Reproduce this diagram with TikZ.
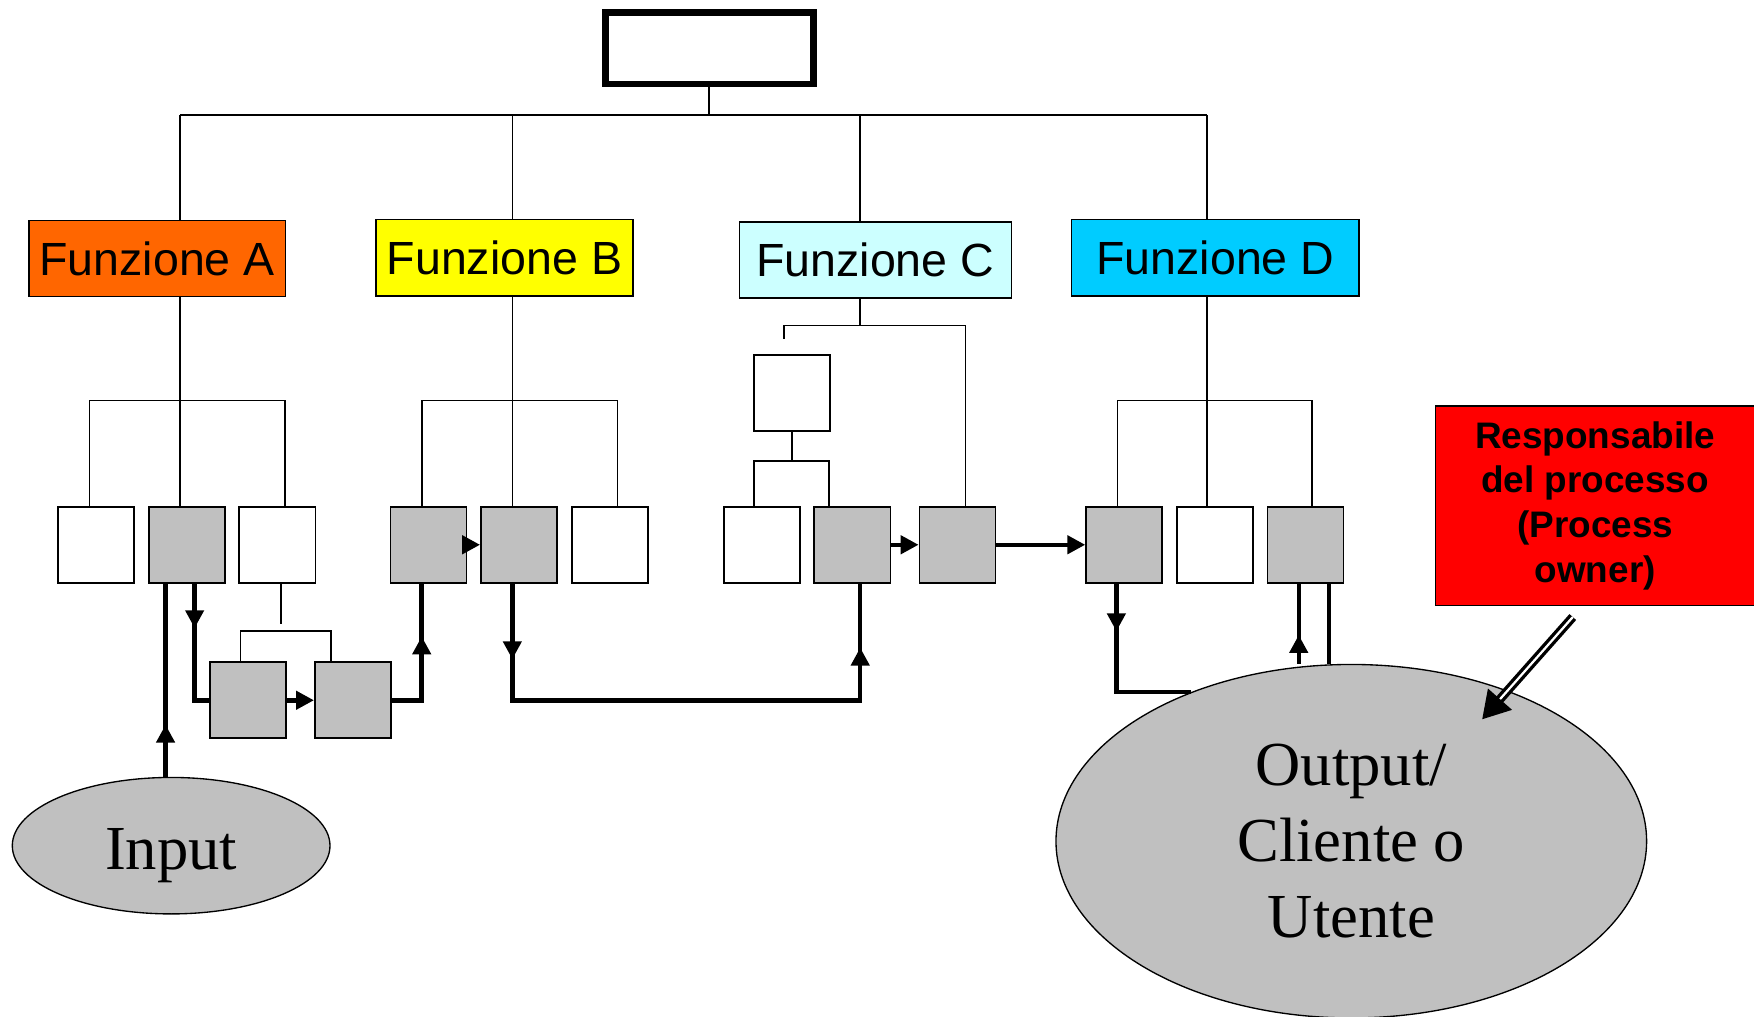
\documentclass[tikz,border=0pt]{standalone}
\usepackage{fontspec}
\setmainfont{Liberation Serif}
\newfontfamily\arialfont{Liberation Sans}
\usetikzlibrary{arrows.meta,shapes.geometric,decorations.markings}
\definecolor{funa}{HTML}{FF6600}
\definecolor{funb}{HTML}{FFFF00}
\definecolor{func}{HTML}{CCFFFF}
\definecolor{fund}{HTML}{00CCFF}
\definecolor{boxgray}{HTML}{C0C0C0}

\begin{document}
\begin{tikzpicture}[x=0.5pt,y=-0.5pt,
            funbox/.style={draw,line width=0.6pt,minimum height=34pt,inner sep=0,font=\arialfont\fontsize{20.8}{25}\selectfont},
            task/.style={draw,line width=0.8pt,minimum width=34pt,minimum height=34pt,inner sep=0,node distance=40.5pt},
            done/.style={task,fill=boxgray},
            ell/.style={draw,ellipse,fill=boxgray,line width=0.6pt,inner sep=0,align=center,font=\fontsize{28}{34}\selectfont},
            treeline/.style={line width=0.7pt},
            flow/.style={line width=2pt},
            flowtip/.style={-{Triangle[length=8pt,width=8pt]}},
            midtip/.style={postaction={decorate},decoration={markings,mark=at position #1 with {\arrow{Triangle[length=8pt,width=8pt]}}}},
            midtips/.style 2 args={postaction={decorate},decoration={markings,
              mark=at position #1 with {\arrow{Triangle[length=8pt,width=8pt]}},
              mark=at position #2 with {\arrow{Triangle[length=8pt,width=8pt]}}}}
          ]
          \useasboundingbox (0,0) rectangle (1568,909);

          %top
          \node[draw,line width=3pt,minimum width=93pt,minimum height=32pt] (top) at (634,43) {};

          %functions
          \node[funbox,fill=funa,minimum width=114.5pt] (fa) at (140.5,231) {Funzione A};
          \node[funbox,fill=funb,minimum width=115pt] (fb) at (451,230.5) {Funzione B};
          \node[funbox,fill=func,minimum width=121.5pt] (fc) at (782.5,232.5) {Funzione C};
          \node[funbox,fill=fund,minimum width=128.5pt] (fd) at (1086.5,230.5) {Funzione D};

          %activities
          \node[task] (a1) at (86,487) {};
          \node[right of = a1,done] (a2) {};
          \node[right of = a2,task] (a3) {};
          \node[done] (b1) at (383,487) {};
          \node[right of = b1,done] (b2) {};
          \node[right of = b2,task] (b3) {};
          \node[task] (c0) at (708,351.5) {};
          \node[task] (c1) at (681,487) {};
          \node[right of = c1,done] (c2) {};
          \node[right of = c2,done,node distance=47pt] (c3) {};
          \node[done] (d1) at (1005,487) {};
          \node[right of = d1,task] (d2) {};
          \node[right of = d2,done] (d3) {};
          \node[done] (l1) at (221.5,626) {};
          \node[right of = l1,done,node distance=47pt] (l2) {};

          %input, output, owner
          \node[ell,minimum width=142pt,minimum height=61pt,text height=27pt,text depth=6pt] (in) at (153,756) {Input};
          \node[draw,fill=red,line width=0.6pt,minimum width=143pt,minimum height=89pt,align=center,
                font=\arialfont\bfseries\fontsize{16.5}{20}\selectfont] (resp) at (1426,452)
                {Responsabile\\del processo\\(Process\\owner)};

          %organisation lines
          \coordinate (ta) at (161,103);
          \coordinate (tb) at (458,103);
          \coordinate (tc) at (769,103);
          \coordinate (td) at (1079,103);
          \draw[treeline] (top.south) -- (top |- ta);
          \draw[treeline] (ta) -- (td);
          \foreach \f in {a,b,c,d}
            \draw[treeline] (t\f) -- (t\f |- f\f.north);
          \foreach \f/\l/\r in {a/80/255,b/377/552,d/999/1173}{
            \coordinate (hl) at (\l,358);
            \coordinate (hr) at (\r,358);
            \draw[treeline] (t\f |- f\f.south) -- (t\f |- \f2.north);
            \draw[treeline] (hl |- \f1.north) |- (hr) -- (hr |- \f3.north);
          }
          \coordinate (hc0) at (701,303);
          \coordinate (hc3) at (863,291);
          \coordinate (hc1) at (674,412);
          \coordinate (hc2) at (741,412);
          \draw[treeline] (tc |- fc.south) -- (tc |- hc3);
          \draw[treeline] (hc0) |- (hc3) -- (hc3 |- c3.north);
          \draw[treeline] (c0.south) -- (c0.south |- hc1);
          \draw[treeline] (hc1 |- c1.north) |- (hc2) -- (hc2 |- c2.north);
          \coordinate (hl0) at (251,558);
          \coordinate (hl1) at (215,564);
          \coordinate (hl2) at (296,564);
          \draw[treeline] (hl0 |- a3.south) -- (hl0);
          \draw[treeline] (hl1 |- l1.north) |- (hl2) -- (hl2 |- l2.north);

          %process flow
          \coordinate (pin) at ([xshift=-9.5pt]a2.south);
          \coordinate (pa) at ([xshift=3.5pt]a2.south);
          \coordinate (pb1) at ([xshift=-3pt]b1.south);
          \coordinate (pb2) at ([xshift=-3pt]b2.south);
          \coordinate (pc2) at ([xshift=3.5pt]c2.south);
          \coordinate (pd1) at ([xshift=-3.5pt]d1.south);
          \coordinate (pd3) at ([xshift=-3pt]d3.south);
          \coordinate (pd4) at ([xshift=10.5pt]d3.south);
          \draw[flow,midtip=0.27] (pin |- in.north) -- (pin);
          \draw[flow,midtip=0.34] (pa) |- (l1.west);
          \draw[flow,flowtip] (l1.east) -- (l2.west);
          \draw[flow,midtip=0.64] (l2.east) -| (pb1);
          \draw[flow,flowtip] (b1.east) -- (b2.west);
          \draw[flow,midtips={0.13}{0.89}] (pb2) |- (l2 -| pc2) -- (pc2);
          \draw[flow,flowtip] (c2.east) -- (c3.west);
          \draw[flow,flowtip] (c3.east) -- (d1.west);

          \node[ell,minimum width=264pt,minimum height=158pt] (out) at (1208,752) {Output/\\Cliente o\\Utente};
          \draw[flow,midtip=0.26] (pd1) |- (out.137);
          \draw[flow,midtip=0.36] (pd3 |- out.north) -- (pd3);
          \draw[flow] (pd4) -- (pd4 |- out.north);

          \coordinate (tip) at (1325,643);
          \draw[line width=1.5pt,double=white,double distance=1pt,-{Triangle[length=12pt,width=14pt]}]
            ([xshift=-10pt,yshift=-5pt]resp.south) -- (tip);
\end{tikzpicture}
\end{document}
